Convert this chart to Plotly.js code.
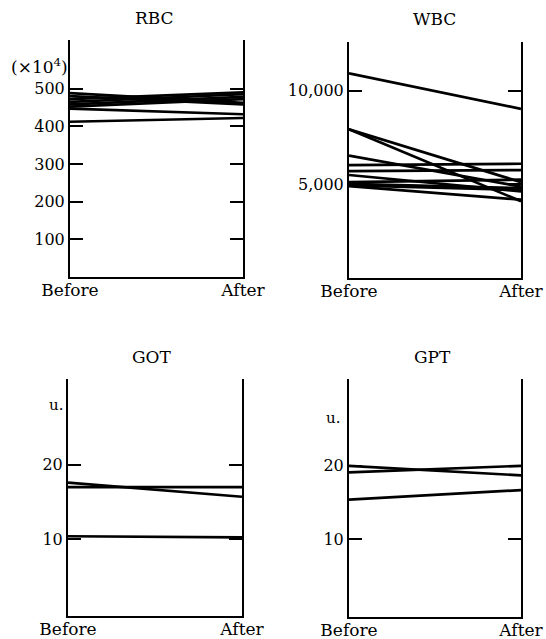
<!DOCTYPE html>
<html>
<head>
<meta charset="utf-8">
<script src="https://cdn.plot.ly/plotly-3.0.1.min.js"></script>
<style>html,body{margin:0;padding:0;background:#fff;}#chart{width:546px;height:639px;}</style>
</head>
<body>
<div id="chart"></div>
<script>
// ---- data ----
const xLabels = ['Before', 'After'];

const rbcBefore = [488, 480, 472, 465, 458, 452, 447, 412];
const rbcAfter  = [462, 458, 490, 485, 478, 472, 432, 422];
const rbcTicks  = [100, 200, 300, 400, 500];
const rbcTickText = ['100', '200', '300', '400', '500'];

const wbcBefore = [10930, 7940, 7940, 6530, 6030, 5710, 5500, 5120, 5020, 4950, 4900];
const wbcAfter  = [ 9030, 4100, 5120, 4880, 6100, 5760, 4620, 5250, 4800, 4700, 4180];
const wbcTicks  = [5000, 10000];
const wbcTickText = ['5,000', '10,000'];

const gotBefore = [17.6, 17.0, 10.4];
const gotAfter  = [15.7, 17.0, 10.25];
const gotTicks  = [10, 20];
const gotTickText = ['10', '20'];

const gptBefore = [20.0, 19.1, 15.4];
const gptAfter  = [18.7, 20.0, 16.7];
const gptTicks  = [10, 20];
const gptTickText = ['10', '20'];

const panelTitles = ['RBC', 'WBC', 'GOT', 'GPT'];
const unitLabels = ['(\u00d710<sup>4</sup>)', 'u.', 'u.'];

// ---- layout helpers ----
const W = 546, H = 639;
const px = x => x / W;
const py = y => 1 - y / H;
const FONT = 'DejaVu Serif, Liberation Serif, serif';

function makeTraces(before, after, xa, ya) {
  return before.map((b, i) => ({
    type: 'scatter', mode: 'lines',
    x: xLabels.map((_, k) => k),
    y: [b, after[i]],
    xaxis: xa, yaxis: ya,
    line: {color: '#000', width: 2.7},
    hoverinfo: 'skip'
  }));
}

function xAxis(x0, x1, anchor) {
  return {
    domain: [px(x0), px(x1)], range: [0, 1], anchor: anchor,
    tickvals: xLabels.map((_, k) => k), ticktext: xLabels,
    ticks: '', showline: true, linecolor: '#000', linewidth: 2,
    showgrid: false, zeroline: false, fixedrange: true,
    ticklabelstandoff: -3,
    tickfont: {family: FONT, size: 17, color: '#000'}
  };
}
function yAxis(y0, y1, range, tv, tt, anchor) {
  return {
    domain: [py(y1), py(y0)], range: range, anchor: anchor,
    tickvals: tv, ticktext: tt,
    ticks: 'inside', ticklen: 13, tickwidth: 2, tickcolor: '#000',
    showline: true, linecolor: '#000', linewidth: 2, mirror: 'ticks',
    showgrid: false, zeroline: false, fixedrange: true,
    tickfont: {family: FONT, size: 16, color: '#000'}
  };
}

const data = [].concat(
  makeTraces(rbcBefore, rbcAfter, 'x', 'y'),
  makeTraces(wbcBefore, wbcAfter, 'x2', 'y2'),
  makeTraces(gotBefore, gotAfter, 'x3', 'y3'),
  makeTraces(gptBefore, gptAfter, 'x4', 'y4')
);

function ann(text, x, y, size, xanchor) {
  return {text: text, xref: 'paper', yref: 'paper', x: px(x), y: py(y),
    xanchor: xanchor || 'center', yanchor: 'middle', showarrow: false,
    font: {family: FONT, size: size, color: '#000'}};
}

const layout = {
  width: W, height: H,
  margin: {l: 0, r: 0, t: 0, b: 0},
  paper_bgcolor: '#fff', plot_bgcolor: '#fff',
  showlegend: false,
  xaxis:  xAxis(70, 243, 'y'),
  yaxis:  yAxis(40, 277, [0, 629], rbcTicks, rbcTickText, 'x'),
  xaxis2: xAxis(349, 521, 'y2'),
  yaxis2: yAxis(42, 278, [0, 12600], wbcTicks, wbcTickText, 'x2'),
  xaxis3: xAxis(68, 242, 'y3'),
  yaxis3: yAxis(379, 616, [-0.3, 31.5], gotTicks, gotTickText, 'x3'),
  xaxis4: xAxis(349, 521, 'y4'),
  yaxis4: yAxis(379, 617, [-0.55, 31.8], gptTicks, gptTickText, 'x4'),
  annotations: [
    ann(panelTitles[0], 154, 18, 17),
    ann(panelTitles[1], 435, 19, 17),
    ann(panelTitles[2], 152, 357, 17),
    ann(panelTitles[3], 432, 357, 17),
    ann(unitLabels[0], 70, 66, 17, 'right'),
    ann(unitLabels[1], 56, 405, 15),
    ann(unitLabels[2], 333, 418, 15)
  ]
};

Plotly.newPlot('chart', data, layout, {staticPlot: true, displayModeBar: false});
</script>
</body>
</html>
